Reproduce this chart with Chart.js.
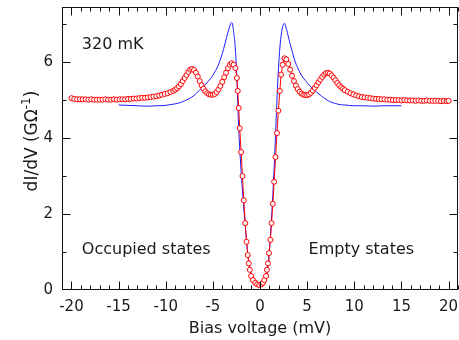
<!DOCTYPE html>
<html>
<head>
<meta charset="utf-8">
<script src="https://cdn.jsdelivr.net/npm/chart.js@4"></script>
<style>
  html, body { margin: 0; padding: 0; background: #fff; }
</style>
</head>
<body>
<canvas id="didv" width="459" height="340"></canvas>
<script>
// tunneling conductance vs bias, measured at 320 mK (red, open circles) and reference curve (blue)
var redBias = [
  -20.0, -19.7, -19.4, -19.1, -18.8, -18.5, -18.2, -17.9, -17.6, -17.3,
  -17.0, -16.7, -16.4, -16.1, -15.8, -15.5, -15.2, -14.9, -14.6, -14.3,
  -14.0, -13.7, -13.4, -13.1, -12.8, -12.5, -12.2, -11.9, -11.6, -11.3,
  -11.0, -10.7, -10.4, -10.1, -9.8, -9.5, -9.2,
  -9.0, -8.8, -8.6, -8.4, -8.2, -8.0, -7.8, -7.6, -7.4, -7.2,
  -7.0, -6.8, -6.6, -6.4, -6.2, -6.0, -5.8, -5.6, -5.4, -5.2,
  -5.0, -4.8, -4.6, -4.4, -4.2, -4.0, -3.8, -3.6, -3.4, -3.2,
  -3.0, -2.8, -2.6, -2.45, -2.36, -2.26, -2.15, -2.0, -1.86, -1.72,
  -1.56, -1.43, -1.3, -1.19, -1.08, -0.94, -0.75, -0.5, -0.3, -0.08,
  0.15, 0.32, 0.46, 0.64, 0.74, 0.85, 0.95, 1.1, 1.22, 1.36,
  1.5, 1.65, 1.8, 1.95, 2.1, 2.24, 2.4, 2.6, 2.8, 3.0,
  3.2, 3.4, 3.6, 3.8, 4.0, 4.2, 4.4, 4.6, 4.8, 5.0,
  5.2, 5.4, 5.6, 5.8, 6.0, 6.2, 6.4, 6.6, 6.8, 7.0,
  7.2, 7.4, 7.6, 7.8, 8.0, 8.2, 8.4, 8.6, 8.8, 9.0,
  9.3, 9.6, 9.9, 10.2, 10.5, 10.8, 11.1, 11.4, 11.7, 12.0,
  12.3, 12.6, 12.9, 13.2, 13.5, 13.8, 14.1, 14.4, 14.7, 15.0,
  15.3, 15.6, 15.9, 16.2, 16.5, 16.8, 17.1, 17.4, 17.7, 18.0,
  18.3, 18.6, 18.9, 19.2, 19.5, 19.8, 20.0
];
var redConductance = [
  5.05, 5.03, 5.02, 5.02, 5.02, 5.02, 5.01, 5.02, 5.01, 5.01,
  5.01, 5.01, 5.02, 5.01, 5.01, 5.02, 5.01, 5.02, 5.02, 5.02,
  5.03, 5.03, 5.04, 5.04, 5.05, 5.06, 5.06, 5.07, 5.08, 5.09,
  5.10, 5.12, 5.14, 5.16, 5.18, 5.21, 5.24,
  5.27, 5.31, 5.36, 5.42, 5.50, 5.58, 5.66, 5.74, 5.80, 5.82,
  5.79, 5.72, 5.62, 5.50, 5.39, 5.30, 5.23, 5.18, 5.15, 5.14,
  5.14, 5.16, 5.21, 5.28, 5.37, 5.48, 5.60, 5.72, 5.84, 5.93,
  5.97, 5.93, 5.84, 5.58, 5.24, 4.79, 4.26, 3.63, 3.00, 2.36,
  1.76, 1.27, 0.92, 0.70, 0.53, 0.37, 0.26, 0.19, 0.15, 0.13,
  0.15, 0.19, 0.26, 0.37, 0.53, 0.70, 0.97, 1.32, 1.76, 2.27,
  2.85, 3.50, 4.13, 4.72, 5.24, 5.67, 5.93, 6.10, 6.07, 5.95,
  5.80, 5.64, 5.50, 5.38, 5.29, 5.22, 5.17, 5.14, 5.13, 5.13,
  5.15, 5.19, 5.25, 5.32, 5.39, 5.47, 5.54, 5.61, 5.67, 5.71,
  5.72, 5.70, 5.65, 5.59, 5.52, 5.45, 5.39, 5.34, 5.30, 5.26,
  5.22, 5.18, 5.15, 5.12, 5.10, 5.08, 5.07, 5.06, 5.05, 5.04,
  5.03, 5.03, 5.02, 5.02, 5.01, 5.01, 5.00, 5.00, 5.00, 4.99,
  5.00, 4.99, 4.99, 4.99, 4.98, 4.99, 4.98, 4.98, 4.99, 4.98,
  4.98, 4.98, 4.98, 4.97, 4.98, 4.97, 4.98
];

var blueBias = [
  -15, -14, -13, -12, -11, -10, -9.5, -9, -8.5, -8,
  -7.5, -7, -6.5, -6, -5.5, -5, -4.5, -4, -3.7, -3.4,
  -3.2, -3.05, -2.95, -2.8, -2.6, -2.45, -2.33, -2.2, -2.05, -1.9,
  -1.75, -1.6, -1.45, -1.3, -1.15, -1.0, -0.8, -0.6, -0.4, -0.2,
  0, 0.2, 0.4, 0.6, 0.8, 0.95, 1.1, 1.25, 1.4, 1.55,
  1.7, 1.85, 2.0, 2.15, 2.3, 2.45, 2.6, 2.75, 2.9, 3.05,
  3.2, 3.4, 3.7, 4.0, 4.4, 4.8, 5.2, 5.6, 6.0, 6.5,
  7.0, 7.5, 8.0, 8.5, 9, 10, 11, 12, 13, 14, 15
];
var blueConductance = [
  4.87, 4.86, 4.85, 4.84, 4.85, 4.86, 4.88, 4.90, 4.93, 4.98,
  5.04, 5.12, 5.24, 5.36, 5.49, 5.65, 5.88, 6.22, 6.50, 6.78,
  6.95, 7.04, 7.03, 6.80, 6.30, 5.55, 4.70, 3.95, 3.30, 2.75,
  2.25, 1.80, 1.35, 0.98, 0.70, 0.50, 0.33, 0.24, 0.18, 0.14,
  0.13, 0.14, 0.18, 0.26, 0.50, 0.90, 1.40, 2.00, 2.70, 3.50,
  4.40, 5.30, 6.00, 6.50, 6.80, 6.97, 7.02, 6.92, 6.78, 6.62,
  6.47, 6.30, 6.03, 5.85, 5.65, 5.52, 5.40, 5.30, 5.21, 5.11,
  5.02, 4.95, 4.91, 4.88, 4.87, 4.85, 4.85, 4.84, 4.85, 4.85, 4.85
];

var xTicks = [-20, -15, -10, -5, 0, 5, 10, 15, 20];
var yTicks = [0, 2, 4, 6];

var FONT = "'DejaVu Sans', Verdana, sans-serif";
var INK = '#1a1a1a';

function pairs(xs, ys) {
  return xs.map(function (x, i) { return { x: x, y: ys[i] }; });
}

// frame with inward ticks, the in-plot captions and the y axis title
var framePlugin = {
  id: 'frame',
  afterDraw: function (chart) {
    var ctx = chart.ctx;
    var a = chart.chartArea;
    var xs = chart.scales.x, ys = chart.scales.y;
    var L = Math.round(a.left) + 0.5, R = Math.round(a.right) - 0.5;
    var T = Math.round(a.top) + 0.5, B = Math.round(a.bottom) - 0.5;

    ctx.save();
    ctx.strokeStyle = '#111';
    ctx.lineWidth = 1;
    ctx.strokeRect(L, T, R - L, B - T);

    ctx.beginPath();
    for (var v = -21; v <= 21; v++) {
      var len = (v % 5 === 0) ? 8 : 4;
      var px = Math.round(xs.getPixelForValue(v)) + 0.5;
      ctx.moveTo(px, B); ctx.lineTo(px, B - len);
      ctx.moveTo(px, T); ctx.lineTo(px, T + len);
    }
    for (var w = 1; w <= 7; w++) {
      var ylen = (w % 2 === 0) ? 8 : 4;
      var py = Math.round(ys.getPixelForValue(w)) + 0.5;
      ctx.moveTo(L, py); ctx.lineTo(L + ylen, py);
      ctx.moveTo(R, py); ctx.lineTo(R - ylen, py);
    }
    ctx.stroke();

    ctx.fillStyle = INK;
    ctx.font = '16px ' + FONT;
    ctx.textBaseline = 'middle';
    ctx.textAlign = 'left';
    ctx.fillText('320 mK', xs.getPixelForValue(-18.9), ys.getPixelForValue(6.46));
    ctx.fillText('Occupied states', xs.getPixelForValue(-18.9), ys.getPixelForValue(1.05));
    ctx.fillText('Empty states', xs.getPixelForValue(5.15), ys.getPixelForValue(1.05));

    // y title, with a raised exponent
    ctx.translate(31, 141);
    ctx.rotate(-Math.PI / 2);
    var main = 'dI/dV (G\u03A9';
    ctx.font = '17px ' + FONT;
    var w1 = ctx.measureText(main).width;
    ctx.font = '12px ' + FONT;
    var w2 = ctx.measureText('-1').width;
    ctx.font = '17px ' + FONT;
    var w3 = ctx.measureText(')').width;
    var x0 = -(w1 + w2 + w3) / 2;
    ctx.textBaseline = 'alphabetic';
    ctx.fillText(main, x0, 6);
    ctx.font = '12px ' + FONT;
    ctx.fillText('-1', x0 + w1, -1);
    ctx.font = '17px ' + FONT;
    ctx.fillText(')', x0 + w1 + w2, 6);
    ctx.restore();
  }
};

new Chart(document.getElementById('didv'), {
  type: 'line',
  data: {
    datasets: [
      {
        label: '320 mK',
        data: pairs(redBias, redConductance),
        borderColor: '#ff0000',
        borderWidth: 1,
        pointRadius: 2.5,
        pointBorderWidth: 1,
        pointBorderColor: '#ff0000',
        pointBackgroundColor: '#ffffff',
        pointStyle: 'circle',
        tension: 0
      },
      {
        label: 'reference',
        data: pairs(blueBias, blueConductance),
        borderColor: '#1a1aff',
        borderWidth: 1,
        pointRadius: 0,
        cubicInterpolationMode: 'monotone'
      }
    ]
  },
  options: {
    responsive: false,
    animation: false,
    events: [],
    layout: { autoPadding: false, padding: { top: 7, right: 1, left: 0, bottom: 0 } },
    plugins: { legend: { display: false }, tooltip: { enabled: false } },
    scales: {
      x: {
        type: 'linear',
        min: -21,
        max: 21,
        grid: { display: false, drawTicks: false },
        border: { display: false },
        afterBuildTicks: function (s) { s.ticks = xTicks.map(function (v) { return { value: v }; }); },
        afterFit: function (s) { s.height = 50; s.paddingLeft = 0; s.paddingRight = 0; },
        ticks: {
          padding: 8,
          autoSkip: false,
          maxRotation: 0,
          color: INK,
          font: { family: FONT, size: 15 }
        },
        title: {
          display: true,
          text: 'Bias voltage (mV)',
          color: INK,
          font: { family: FONT, size: 16 },
          padding: { top: 0, bottom: 2 }
        }
      },
      y: {
        type: 'linear',
        min: 0,
        max: 7.45,
        grid: { display: false, drawTicks: false },
        border: { display: false },
        afterBuildTicks: function (s) { s.ticks = yTicks.map(function (v) { return { value: v }; }); },
        afterFit: function (s) { s.width = 62; s.paddingTop = 0; s.paddingBottom = 0; },
        ticks: {
          padding: 9,
          color: INK,
          font: { family: FONT, size: 15 }
        }
      }
    }
  },
  plugins: [framePlugin]
});
</script>
</body>
</html>
